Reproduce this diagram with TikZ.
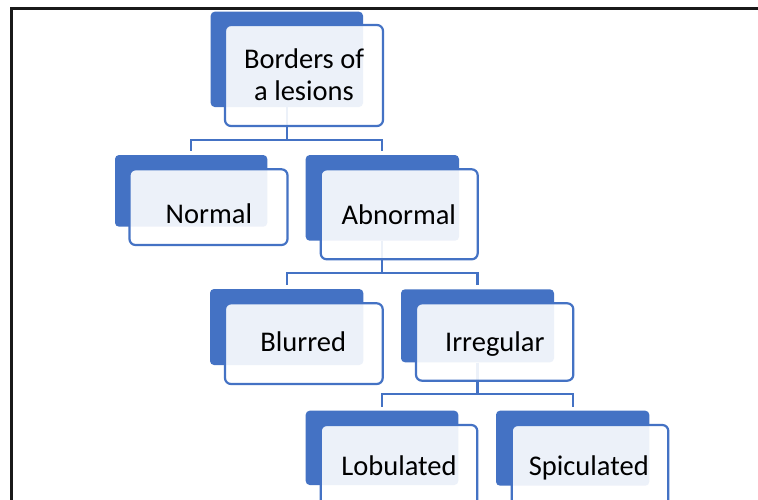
\documentclass[tikz,border=0pt]{standalone}
\usepackage{fontspec}
\setmainfont{Carlito}
\definecolor{accent}{HTML}{4472C4}
\begin{document}
\begin{tikzpicture}[x=1pt,y=-1pt,
  back/.style={draw=none,fill=accent,rounded corners=4pt,inner sep=0pt},
  front/.style={draw=accent,line width=2.2pt,fill=white,fill opacity=0.9,rounded corners=6pt,inner sep=0pt},
  lbl/.style={anchor=base,inner sep=0pt,font=\fontsize{28.5}{32}\selectfont,text=black,align=center},
  conn/.style={draw=accent,line width=2.2pt}]
\useasboundingbox (0,0) rectangle (758,499);
\clip (0,0) rectangle (758,499);
\fill[white] (0,0) rectangle (758,499);
% frame
\draw[line width=2.2pt,black!90] (11.5,520) -- (11.5,8.5) -- (780,8.5);
% back rectangles
\node[back,minimum width=152.3pt,minimum height=95.3pt] (tb) at (286.85,59.35) {};
\node[back,minimum width=152.3pt,minimum height=71.7pt] (nb) at (191.15,190.85) {};
\node[back,minimum width=153.3pt,minimum height=85.7pt] (ab) at (382.35,197.85) {};
\node[back,minimum width=153.3pt,minimum height=76pt] (bb) at (286.65,327) {};
\node[back,minimum width=153pt,minimum height=73pt] (ib) at (477.5,325.8) {};
\node[back,minimum width=152.6pt,minimum height=74.3pt] (lb) at (382,447.85) {};
\node[back,minimum width=153.3pt,minimum height=75pt] (sb) at (572.65,448.2) {};
% bars
\coordinate (bar1) at (0,140);
\coordinate (bar2) at (0,272.7);
\coordinate (bar3) at (0,394);
% connectors
\draw[conn] (tb.south) |- (bar1 -| nb.north) -- ([yshift=4pt]nb.north);
\draw[conn] (tb.south) |- (bar1 -| ab.north) -- ([yshift=4pt]ab.north);
\draw[conn] (ab.south) |- (bar2 -| bb.north) -- ([yshift=4pt]bb.north);
\draw[conn] (ab.south) |- (bar2 -| ib.north) -- ([yshift=4pt]ib.north);
\draw[conn] (ib.south) |- (bar3 -| lb.north) -- ([yshift=4pt]lb.north);
\draw[conn] (ib.south) |- (bar3 -| sb.north) -- ([yshift=4pt]sb.north);
% front boxes
\node[front,minimum width=158pt,minimum height=101pt] (tf) at (304,75.5) {};
\node[front,minimum width=158pt,minimum height=75.7pt] (nf) at (208.5,207.15) {};
\node[front,minimum width=157pt,minimum height=90pt] (af) at (399.2,214.3) {};
\node[front,minimum width=157.7pt,minimum height=80.7pt] (bf) at (303.85,343.65) {};
\node[front,minimum width=157.3pt,minimum height=77.4pt] (if) at (494.65,342) {};
\node[front,minimum width=156.6pt,minimum height=82pt] (lf) at (399,466) {};
\node[front,minimum width=156.6pt,minimum height=82pt] (sf) at (590,466) {};
% labels
\node[lbl] (tt) at (304,100.3) {Borders of\\a lesions};
\node[lbl] (nt) at (208.9,223.3) {Normal};
\node[lbl] (at) at (398.8,224) {Abnormal};
\node[lbl] (bt) at (303.3,351.7) {Blurred};
\node[lbl] (it) at (494.8,351.7) {Irregular};
\node[lbl] (lt) at (399,475) {Lobulated};
\node[lbl] (st) at (588.8,475) {Spiculated};
\end{tikzpicture}
\end{document}
